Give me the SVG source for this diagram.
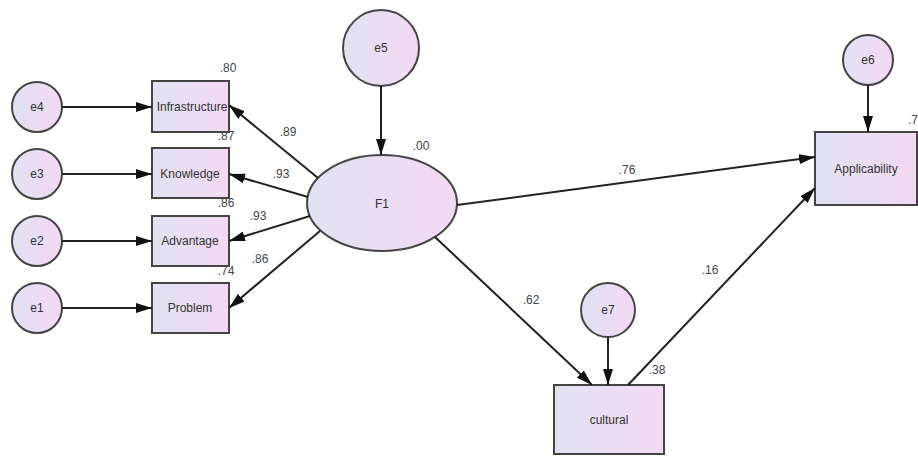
<svg xmlns="http://www.w3.org/2000/svg" width="918" height="456" viewBox="0 0 918 456">
<style>
.n{stroke:#444;stroke-width:2;fill:url(#g)}
.t{font-family:"Liberation Sans",Arial,sans-serif;font-size:12px;fill:#333;text-anchor:middle;dominant-baseline:central}
.l{font-family:"Liberation Sans",Arial,sans-serif;font-size:12px;fill:#444;text-anchor:middle}
.c{stroke:#222;stroke-width:2;fill:none;marker-end:url(#a)}
</style>
<defs>
<linearGradient id="g" x1="0" y1="0" x2="1" y2="0">
<stop offset="0" stop-color="#e0e2f2"/>
<stop offset="1" stop-color="#f3d9f3"/>
</linearGradient>
<marker id="a" viewBox="0 0 16 10" refX="16" refY="5" markerWidth="16" markerHeight="10" markerUnits="userSpaceOnUse" orient="auto">
<path d="M0,0 L16,5 L0,10 Z" fill="#111"/>
</marker>
</defs>
<rect width="918" height="456" fill="#fff"/>
<g id="e4"><circle class="n" cx="37" cy="107" r="25"/><text class="t" x="37" y="107">e4</text></g>
<g id="e3"><circle class="n" cx="37" cy="174" r="25"/><text class="t" x="37" y="174">e3</text></g>
<g id="e2"><circle class="n" cx="37" cy="241" r="25"/><text class="t" x="37" y="241">e2</text></g>
<g id="e1"><circle class="n" cx="37" cy="308" r="25"/><text class="t" x="37" y="308">e1</text></g>
<g id="infrastructure"><rect class="n" x="152" y="81" width="77" height="51"/><text class="t" x="192" y="107">Infrastructure</text></g>
<g id="knowledge"><rect class="n" x="152" y="148" width="77" height="50"/><text class="t" x="190" y="174">Knowledge</text></g>
<g id="advantage"><rect class="n" x="152" y="216" width="77" height="50"/><text class="t" x="190" y="241">Advantage</text></g>
<g id="problem"><rect class="n" x="152" y="283" width="77" height="50"/><text class="t" x="190" y="308">Problem</text></g>
<g id="e5"><circle class="n" cx="381" cy="48" r="38"/><text class="t" x="381" y="48">e5</text></g>
<g id="F1"><ellipse class="n" cx="382" cy="203" rx="75" ry="48"/><text class="t" x="382" y="204">F1</text></g>
<g id="e6"><circle class="n" cx="868" cy="60" r="25"/><text class="t" x="868" y="60">e6</text></g>
<g id="applicability"><rect class="n" x="815" y="132" width="102" height="73"/><text class="t" x="866" y="169">Applicability</text></g>
<g id="e7"><circle class="n" cx="608" cy="310" r="27"/><text class="t" x="608" y="310">e7</text></g>
<g id="cultural"><rect class="n" x="554" y="385" width="110" height="69"/><text class="t" x="609" y="420">cultural</text></g>
<g id="connectors">
<line class="c" x1="62" y1="107" x2="152" y2="107"/>
<line class="c" x1="62" y1="174" x2="152" y2="174"/>
<line class="c" x1="62" y1="241" x2="152" y2="241"/>
<line class="c" x1="62" y1="308" x2="152" y2="308"/>
<line class="c" x1="318" y1="178" x2="229" y2="105"/>
<line class="c" x1="308" y1="197" x2="229" y2="174"/>
<line class="c" x1="310" y1="216" x2="229" y2="241"/>
<line class="c" x1="320" y1="231" x2="229" y2="308"/>
<line class="c" x1="381" y1="86" x2="381" y2="155"/>
<line class="c" x1="457" y1="205" x2="815" y2="157"/>
<line class="c" x1="435" y1="237" x2="592" y2="385"/>
<line class="c" x1="628" y1="385" x2="815" y2="188"/>
<line class="c" x1="608" y1="337" x2="608" y2="385"/>
<line class="c" x1="868" y1="85" x2="868" y2="132"/>
</g>
<g id="labels">
<text class="l" x="228" y="72">.80</text>
<text class="l" x="226" y="140">.87</text>
<text class="l" x="226" y="207">.86</text>
<text class="l" x="226" y="275">.74</text>
<text class="l" x="288" y="136">.89</text>
<text class="l" x="281" y="178">.93</text>
<text class="l" x="258" y="220">.93</text>
<text class="l" x="260" y="263">.86</text>
<text class="l" x="421" y="150">.00</text>
<text class="l" x="627" y="174">.76</text>
<text class="l" x="531" y="304">.62</text>
<text class="l" x="710" y="274">.16</text>
<text class="l" x="657" y="374">.38</text>
<text class="l" x="913" y="124">.7</text>
</g>
</svg>
